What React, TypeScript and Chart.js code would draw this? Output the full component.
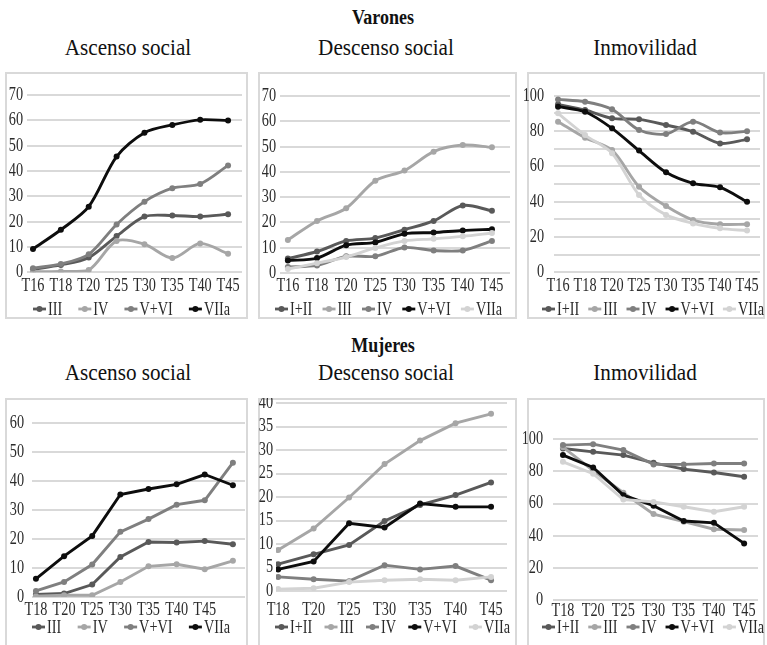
import React, { useEffect, useRef } from "react";
import { Chart, registerables } from "chart.js";
Chart.register(...registerables);

// ---------- DATA ----------
const catsVarones = ["T16", "T18", "T20", "T25", "T30", "T35", "T40", "T45"];
const catsMujAsc = ["T18", "T20", "T25", "T30", "T35", "T40", "T45", ""];
const catsMujeres = ["T18", "T20", "T25", "T30", "T35", "T40", "T45"];

// Varones – Ascenso social
const vAscIII = [1.2, 2.9, 5.8, 14.3, 22.0, 22.4, 22.0, 22.9];
const vAscIV = [0.3, 0.3, 0.9, 12.4, 11.1, 5.6, 11.4, 7.3];
const vAscVVI = [1.6, 3.3, 7.1, 18.9, 27.9, 33.2, 34.9, 42.2];
const vAscVIIa = [9.2, 16.8, 25.9, 45.7, 55.1, 58.2, 60.2, 59.9];

// Varones – Descenso social
const vDesI_II = [5.7, 8.5, 12.7, 13.8, 17.1, 20.6, 26.7, 24.6];
const vDesIII = [13.1, 20.6, 25.6, 36.5, 40.5, 48.0, 50.6, 49.7];
const vDesIV = [2.4, 3.0, 6.6, 6.6, 10.1, 8.9, 8.9, 12.7];
const vDesVVI = [4.9, 5.9, 11.0, 12.1, 15.5, 16.0, 16.8, 17.3];
const vDesVIIa = [1.6, 3.9, 6.3, 9.9, 12.7, 13.5, 14.5, 15.8];

// Varones – Inmovilidad
const vInmI_II = [95.1, 91.9, 87.2, 86.6, 83.4, 79.6, 73.0, 75.3];
const vInmIII = [85.3, 76.2, 69.2, 48.5, 37.5, 29.6, 27.2, 27.2];
const vInmIV = [97.9, 96.6, 92.3, 80.6, 78.3, 85.3, 79.1, 79.8];
const vInmVVI = [93.8, 90.9, 81.5, 68.9, 56.6, 50.4, 48.1, 40.0];
const vInmVIIa = [90.0, 77.7, 67.4, 43.8, 32.5, 27.7, 24.9, 23.6];

// Mujeres – Ascenso social
const mAscIII = [0.9, 1.2, 4.3, 13.8, 19.0, 18.8, 19.3, 18.2];
const mAscIV = [0.3, 0.6, 0.6, 5.2, 10.6, 11.3, 9.6, 12.5];
const mAscVVI = [2.1, 5.2, 11.2, 22.5, 26.9, 31.9, 33.4, 46.4];
const mAscVIIa = [6.3, 14.1, 21.1, 35.4, 37.3, 38.9, 42.3, 38.6];

// Mujeres – Descenso social
const mDesI_II = [5.7, 7.8, 9.8, 14.9, 18.3, 20.4, 23.1];
const mDesIII = [8.7, 13.3, 19.9, 27.0, 32.0, 35.7, 37.7];
const mDesIV = [3.0, 2.5, 2.1, 5.5, 4.6, 5.3, 2.3];
const mDesVVI = [4.6, 6.3, 14.4, 13.5, 18.6, 17.9, 17.9];
const mDesVIIa = [0.4, 0.6, 1.9, 2.3, 2.5, 2.3, 3.0];

// Mujeres – Inmovilidad
const mInmI_II = [94.2, 92.1, 90.1, 85.3, 81.4, 79.3, 76.6];
const mInmIII = [95.0, 80.5, 66.7, 53.4, 48.7, 44.0, 43.5];
const mInmIV = [96.3, 96.9, 93.2, 84.3, 84.3, 84.9, 84.9];
const mInmVVI = [90.1, 82.4, 65.2, 58.6, 49.1, 48.0, 35.2];
const mInmVIIa = [85.9, 78.5, 62.5, 61.0, 58.0, 54.9, 58.0];

// y-axis ticks
const yTicks70 = [0, 10, 20, 30, 40, 50, 60, 70];
const yTicks60 = [0, 10, 20, 30, 40, 50, 60];
const yTicks40 = [0, 5, 10, 15, 20, 25, 30, 35, 40];
const yGrid100by10 = [0, 10, 20, 30, 40, 50, 60, 70, 80, 90, 100];
const yLabels100 = [0, 20, 40, 60, 80, 100];

// ---------- STYLE ----------
const C_DARK = "#595959";
const C_LIGHT = "#a6a6a6";
const C_MED = "#7f7f7f";
const C_BLACK = "#0d0d0d";
const C_VLIGHT = "#d3d3d3";
const FONT = "'Liberation Serif', 'DejaVu Serif', 'Noto Serif', 'Times New Roman', Times, serif";
const TXT = "#2b2b2b";
const TICK_SIZE = 19;
const LEGEND_SIZE = 19;
const SX = 0.75; // horizontal squeeze to imitate the condensed face
const BLEED = 12; // canvas extends left of the frame so labels may touch it

type Series = { name: string; data: number[]; color: string };
type PanelSpec = {
  box: [number, number, number, number];
  area: [number, number, number, number];
  xMin: number;
  xMax: number;
  yMax: number;
  cats: string[];
  yGrid: number[];
  yLabels: number[];
  yPad: number;
  tickY: number;
  legendY: number;
  legendX: [number, number];
  tension: number;
  series: Series[];
};

const ascSeries = (iii: number[], iv: number[], vvi: number[], viia: number[]): Series[] => [
  { name: "III", data: iii, color: C_DARK },
  { name: "IV", data: iv, color: C_LIGHT },
  { name: "V+VI", data: vvi, color: C_MED },
  { name: "VIIa", data: viia, color: C_BLACK },
];
const fiveSeries = (i2: number[], iii: number[], iv: number[], vvi: number[], viia: number[]): Series[] => [
  { name: "I+II", data: i2, color: C_DARK },
  { name: "III", data: iii, color: C_LIGHT },
  { name: "IV", data: iv, color: C_MED },
  { name: "V+VI", data: vvi, color: C_BLACK },
  { name: "VIIa", data: viia, color: C_VLIGHT },
];

const panels: PanelSpec[] = [
  {
    box: [5, 72, 248, 319], area: [27, 95, 242, 272.3], xMin: -0.215, xMax: 7.5, yMax: 70,
    cats: catsVarones, yGrid: yTicks70, yLabels: yTicks70, yPad: 4, tickY: 286, legendY: 309,
    legendX: [33, 230], tension: 0.3, series: ascSeries(vAscIII, vAscIV, vAscVVI, vAscVIIa),
  },
  {
    box: [258, 72, 517, 319], area: [280, 96, 510, 273], xMin: -0.27, xMax: 7.62, yMax: 70,
    cats: catsVarones, yGrid: yTicks70, yLabels: yTicks70, yPad: 4, tickY: 286, legendY: 309,
    legendX: [275, 502], tension: 0.3, series: fiveSeries(vDesI_II, vDesIII, vDesIV, vDesVVI, vDesVIIa),
  },
  {
    box: [527, 72, 765, 319], area: [554, 95.7, 760, 272.3], xMin: -0.15, xMax: 7.48, yMax: 100,
    cats: catsVarones, yGrid: yGrid100by10, yLabels: yLabels100, yPad: 10, tickY: 286, legendY: 309,
    legendX: [542, 764], tension: 0.3, series: fiveSeries(vInmI_II, vInmIII, vInmIV, vInmVVI, vInmVIIa),
  },
  {
    box: [5, 398, 248, 650], area: [32, 403, 245, 597], xMin: -0.14, xMax: 7.43, yMax: 67,
    cats: catsMujAsc, yGrid: yTicks60, yLabels: yTicks60, yPad: 8, tickY: 610, legendY: 627,
    legendX: [32, 230], tension: 0, series: ascSeries(mAscIII, mAscIV, mAscVVI, mAscVIIa),
  },
  {
    box: [258, 398, 517, 650], area: [276, 403, 507, 591], xMin: -0.06, xMax: 6.45, yMax: 40,
    cats: catsMujeres, yGrid: yTicks40, yLabels: yTicks40, yPad: 3, tickY: 610, legendY: 627,
    legendX: [275, 510], tension: 0, series: fiveSeries(mDesI_II, mDesIII, mDesIV, mDesVVI, mDesVIIa),
  },
  {
    box: [527, 398, 765, 650], area: [553, 407, 758, 600], xMin: -0.33, xMax: 6.46, yMax: 120,
    cats: catsMujeres, yGrid: yLabels100, yLabels: yLabels100, yPad: 10, tickY: 610, legendY: 627,
    legendX: [542, 764], tension: 0, series: fiveSeries(mInmI_II, mInmIII, mInmIV, mInmVVI, mInmVIIa),
  },
];

// squeeze all canvas text horizontally around its anchor point
const condensePlugin = {
  id: "condenseText",
  beforeInit(chart: any) {
    const ctx = chart.ctx as any;
    if (ctx.__condensed) return;
    const orig = ctx.fillText.bind(ctx);
    ctx.fillText = (text: string, x: number, y: number) => {
      ctx.save();
      ctx.translate(x, y);
      ctx.scale(SX, 1);
      orig(text, 0, 0);
      ctx.restore();
    };
    ctx.__condensed = true;
  },
};

const legendPlugin = {
  id: "customLegend",
  afterDraw(chart: any, _args: any, opts: any) {
    const ctx = chart.ctx as CanvasRenderingContext2D;
    const ds = chart.data.datasets;
    ctx.save();
    ctx.font = `${LEGEND_SIZE}px ${FONT}`;
    const markerW = 13;
    const textGap = 2;
    const widths = ds.map((d: any) => markerW + textGap + ctx.measureText(d.label).width * SX);
    const total = widths.reduce((a: number, b: number) => a + b, 0);
    let gap = (opts.x1 - opts.x0 - total) / (ds.length - 1);
    let x = opts.x0;
    if (gap < 2) {
      gap = 2;
      x = (opts.x0 + opts.x1) / 2 - (total + gap * (ds.length - 1)) / 2;
    }
    const y = opts.y;
    ds.forEach((d: any, i: number) => {
      ctx.strokeStyle = d.borderColor;
      ctx.lineWidth = 2.8;
      ctx.beginPath();
      ctx.moveTo(x, y);
      ctx.lineTo(x + markerW, y);
      ctx.stroke();
      ctx.fillStyle = d.borderColor;
      ctx.beginPath();
      ctx.arc(x + markerW / 2, y, 3, 0, Math.PI * 2);
      ctx.fill();
      ctx.fillStyle = TXT;
      ctx.textBaseline = "middle";
      ctx.textAlign = "left";
      ctx.fillText(d.label, x + markerW + textGap, y + 1);
      x += widths[i] + gap;
    });
    ctx.restore();
  },
};

function PanelChart({ p }: { p: PanelSpec }) {
  const ref = useRef<HTMLCanvasElement>(null);
  const [bl, bt, br, bb] = p.box;
  const cl = bl - BLEED;
  const CW = br - cl;
  const H = bb - bt;
  useEffect(() => {
    const [al, at, ar, ab] = p.area;
    const xH = 30;
    const lineH = TICK_SIZE * 1.2;
    const xPad = Math.max(0, p.tickY - ab - lineH / 2);
    const chart = new Chart(ref.current as HTMLCanvasElement, {
      type: "line",
      data: {
        datasets: p.series.map((s, i) => ({
          label: s.name,
          data: s.data.map((v, j) => ({ x: j, y: v })),
          borderColor: s.color,
          backgroundColor: s.color,
          pointBackgroundColor: s.color,
          borderWidth: 2.9,
          pointRadius: 3,
          pointHoverRadius: 3,
          pointBorderWidth: 0,
          tension: p.tension,
          order: -i,
        })),
      },
      options: {
        responsive: false,
        animation: false,
        devicePixelRatio: 1,
        events: [],
        layout: { padding: { left: 0, top: at - bt, right: br - ar, bottom: bb - ab - xH } },
        plugins: {
          legend: { display: false },
          tooltip: { enabled: false },
          customLegend: { x0: p.legendX[0] - cl, x1: p.legendX[1] - cl, y: p.legendY - bt },
        } as any,
        scales: {
          x: {
            type: "linear",
            min: p.xMin,
            max: p.xMax,
            grid: { display: false, drawTicks: false },
            border: { display: false },
            ticks: {
              autoSkip: false,
              maxRotation: 0,
              minRotation: 0,
              padding: xPad,
              color: TXT,
              font: { family: FONT, size: TICK_SIZE },
              callback: (v: any) => p.cats[Math.round(Number(v))] ?? "",
            },
            afterBuildTicks: (s: any) => {
              s.ticks = p.cats.map((_, i) => ({ value: i }));
            },
            afterFit: (s: any) => {
              s.height = xH;
              s.paddingLeft = 0;
              s.paddingRight = 0;
            },
          },
          y: {
            type: "linear",
            min: 0,
            max: p.yMax,
            grid: { color: "#d9d9d9", lineWidth: 2, drawTicks: false },
            border: { display: false },
            ticks: {
              autoSkip: false,
              padding: p.yPad,
              color: TXT,
              font: { family: FONT, size: TICK_SIZE },
              callback: (v: any) => (p.yLabels.includes(Number(v)) ? String(v) : ""),
            },
            afterBuildTicks: (s: any) => {
              s.ticks = p.yGrid.map((v) => ({ value: v }));
            },
            afterFit: (s: any) => {
              s.width = al - cl;
              s.paddingTop = 0;
              s.paddingBottom = 0;
            },
          },
        },
      } as any,
      plugins: [condensePlugin as any, legendPlugin as any],
    });
    return () => chart.destroy();
  }, []);
  return (
    <>
      <div
        style={{
          position: "absolute",
          left: bl,
          top: bt,
          width: br - bl,
          height: H,
          boxSizing: "border-box",
          border: "2px solid #d9d9d9",
        }}
      />
      <canvas
        ref={ref}
        width={CW}
        height={H}
        style={{ position: "absolute", left: cl, top: bt, width: CW, height: H }}
      />
    </>
  );
}

function Label({ text, cx, cy, size, bold, sx }: { text: string; cx: number; cy: number; size: number; bold?: boolean; sx?: number }) {
  const lh = Math.round(size * 1.3);
  return (
    <div
      style={{
        position: "absolute",
        left: cx - 150,
        width: 300,
        top: cy - lh / 2,
        height: lh,
        lineHeight: `${lh}px`,
        textAlign: "center",
        fontFamily: FONT,
        fontSize: size,
        fontWeight: bold ? 700 : 400,
        color: "#111",
        whiteSpace: "nowrap",
        transform: `scaleX(${sx ?? 1})`,
      }}
    >
      {text}
    </div>
  );
}

export default function App() {
  return (
    <div
      style={{
        position: "fixed",
        left: 0,
        top: 0,
        width: 767,
        height: 645,
        overflow: "hidden",
        background: "#fff",
      }}
    >
      <Label text="Varones" cx={383} cy={17} size={20} bold sx={0.9} />
      <Label text="Ascenso social" cx={128} cy={48} size={23} sx={0.92} />
      <Label text="Descenso social" cx={386} cy={48} size={23} sx={0.92} />
      <Label text="Inmovilidad" cx={645} cy={48} size={23} sx={0.92} />
      <Label text="Mujeres" cx={383} cy={345} size={20} bold sx={0.9} />
      <Label text="Ascenso social" cx={128} cy={373} size={23} sx={0.92} />
      <Label text="Descenso social" cx={386} cy={373} size={23} sx={0.92} />
      <Label text="Inmovilidad" cx={645} cy={373} size={23} sx={0.92} />
      {panels.map((p, i) => (
        <PanelChart key={i} p={p} />
      ))}
    </div>
  );
}
